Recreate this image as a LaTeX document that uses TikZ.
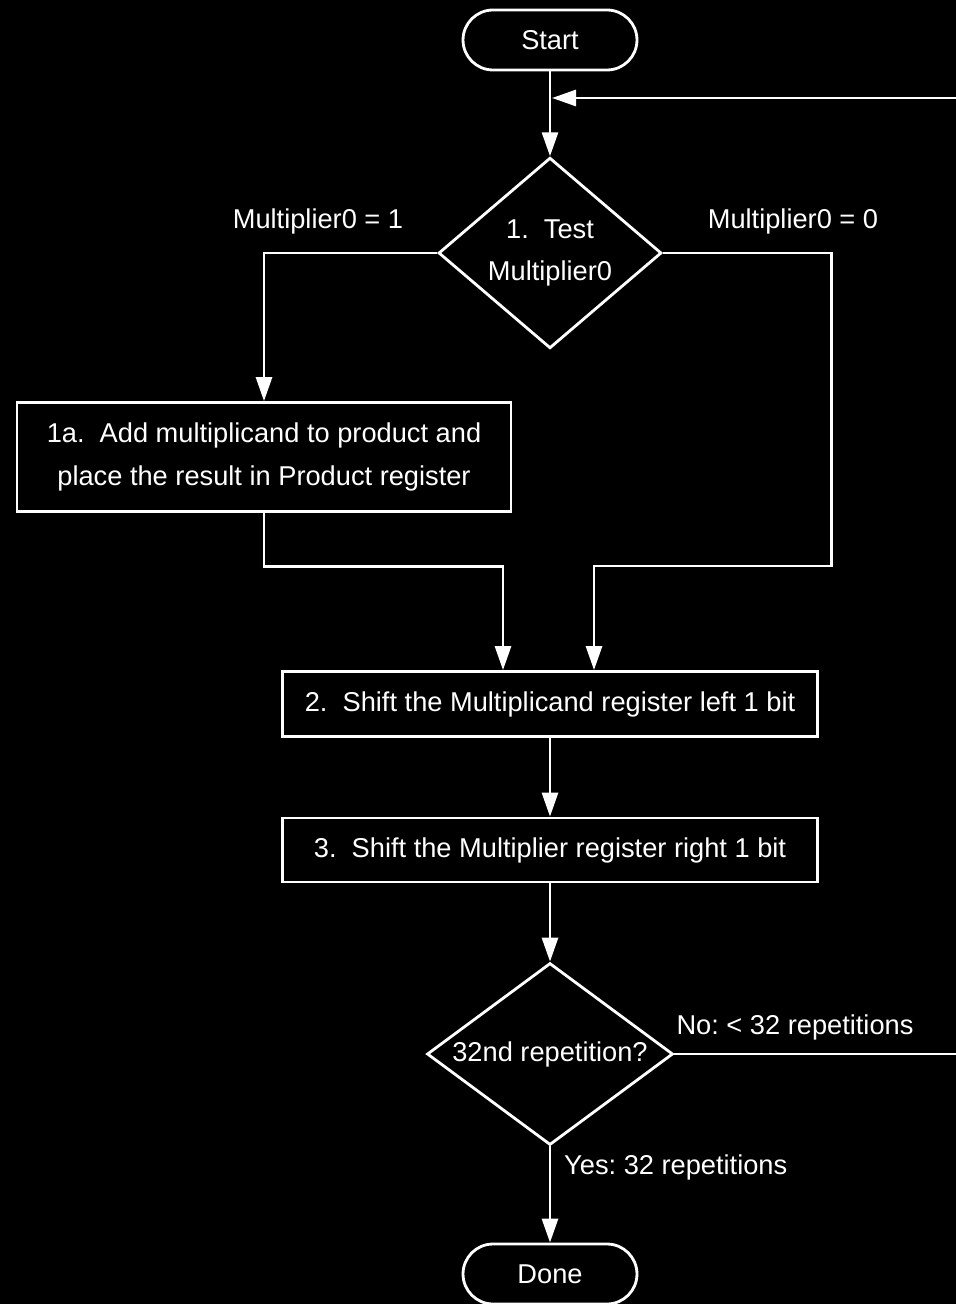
\documentclass[tikz,border=0pt]{standalone}
\usepackage{fontspec}
\setmainfont{Liberation Sans}
\usetikzlibrary{arrows.meta,shapes.geometric,calc}
\frenchspacing

\tikzset{
  flow/.style={draw=white,line width=1.6pt,fill=black,text=white,
    font=\fontsize{15.5}{24}\selectfont,align=center},
  term/.style={flow,rectangle,rounded corners=0.6cm,minimum width=3.48cm,minimum height=1.2cm},
  decide/.style={flow,diamond,inner sep=0pt},
  stepbox/.style={flow,rectangle,inner sep=0pt},
  link/.style={draw=white,line width=1.6pt,-{Triangle[length=0.48cm,width=0.32cm]}},
  lbl/.style={text=white,font=\fontsize{15.5}{24}\selectfont}
}

\begin{document}
\begin{tikzpicture}[x=0.02cm,y=-0.02cm,line join=miter]
  \useasboundingbox (0,0) rectangle (956,1304);
  \clip (0,0) rectangle (956,1304);
  \fill[black] (0,0) rectangle (956,1304);

  \node[term] (start) at (550,40) {Start};
  \node[decide,aspect=1,minimum width=4.46cm,minimum height=3.66cm] (test) at (550,253)
    {1.~ Test\\Multiplier0};
  \node[stepbox,minimum width=9.88cm,minimum height=2.18cm] (add) at (264,457)
    {1a.~ Add multiplicand to product and\\place the result in Product register};
  \node[stepbox,minimum width=10.7cm,minimum height=1.3cm] (shl) at (550,704)
    {2.~ Shift the Multiplicand register left 1 bit};
  \node[stepbox,minimum width=10.7cm,minimum height=1.28cm] (shr) at (550,850)
    {3.~ Shift the Multiplier register right 1 bit};
  \node[decide,aspect=1.3,minimum width=4.92cm,minimum height=3.64cm] (rep) at (550,1054) {32nd repetition?};
  \node[term] (done) at (550,1274) {Done};

  \coordinate (join) at (552,98);

  \draw[link] (start) -- (test);
  \draw[link] (test.west) -| (add.north);
  \draw[link] (add.south) -- ++(0,54) -| ($(shl.north)+(-47,0)$);
  \draw[link] (test.east) -| ++(169,313) -| ($(shl.north)+(44,0)$);
  \draw[link] (shl) -- (shr);
  \draw[link] (shr) -- (rep);
  \draw[link] (rep) -- (done);
  \draw[link] (rep.east) -- ++(330,0) |- (join);

  \node[lbl] (one) at (318,221) {Multiplier0 = 1};
  \node[lbl] (zero) at (793,221) {Multiplier0 = 0};
  \node[lbl] (no) at (795,1027) {No: < 32 repetitions};
  \node[lbl,anchor=west] (yes) at (558,1167) {Yes: 32 repetitions};
\end{tikzpicture}
\end{document}
